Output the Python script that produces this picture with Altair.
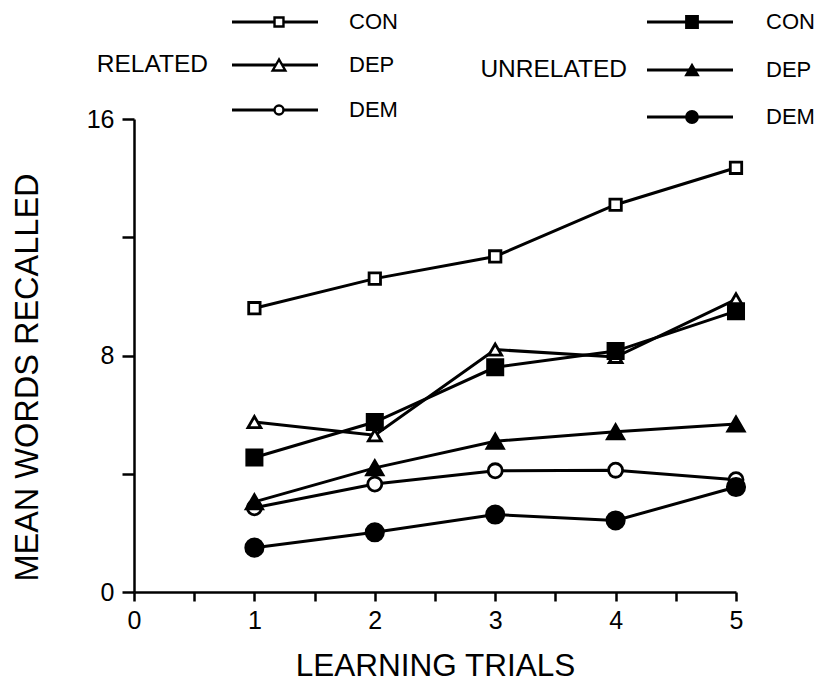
import altair as alt
import pandas as pd

# ---- data ----
trials = [1, 2, 3, 4, 5]
related_con = [9.6, 10.6, 11.35, 13.1, 14.35]
related_dep = [5.75, 5.3, 8.2, 7.95, 9.9]
related_dem = [2.85, 3.65, 4.1, 4.12, 3.8]
unrelated_con = [4.55, 5.75, 7.6, 8.15, 9.5]
unrelated_dep = [3.05, 4.2, 5.1, 5.42, 5.68]
unrelated_dem = [1.5, 2.02, 2.62, 2.42, 3.55]

series_keys = ["R-CON", "R-DEP", "R-DEM", "U-CON", "U-DEP", "U-DEM"]
series_values = [related_con, related_dep, related_dem,
                 unrelated_con, unrelated_dep, unrelated_dem]
series_labels = ["CON", "DEP", "DEM", "CON", "DEP", "DEM"]
group_labels = ["RELATED", "UNRELATED"]
x_tick_values = [0, 0.5, 1, 1.5, 2, 2.5, 3, 3.5, 4, 4.5, 5]
y_tick_values = [0, 4, 8, 12, 16]

# styles
shapes = ["square", "triangle-up", "circle", "square", "triangle-up", "circle"]
fills = ["white", "white", "white", "black", "black", "black"]
sizes = [130, 300, 110, 169, 190, 196]
legend_sizes = [80, 160, 80, 130, 130, 130]

FONT = "Liberation Sans"

rows = []
for key, vals in zip(series_keys, series_values):
    for t, v in zip(trials, vals):
        rows.append({"series": key, "trial": t, "value": v})
df = pd.DataFrame(rows)

x_enc = alt.X(
    "trial:Q",
    scale=alt.Scale(domain=[0, 5], nice=False, zero=False),
    axis=alt.Axis(
        values=x_tick_values,
        labelExpr="datum.value % 1 == 0 ? format(datum.value, 'd') : ''",
        labelFlush=False, labelOverlap=False,
        tickSize=9, tickWidth=2.5, tickColor="black",
        domainColor="black", domainWidth=2.5,
        labelFontSize=25, labelFont=FONT, labelColor="black", labelPadding=7,
        grid=False,
        title="LEARNING TRIALS", titleFont=FONT, titleFontSize=31.5,
        titleFontWeight="normal", titleColor="black",
        titleX=301, titleY=83, titleBaseline="alphabetic", titleAlign="center",
    ),
)
y_enc = alt.Y(
    "value:Q",
    scale=alt.Scale(domain=[0, 16], nice=False),
    axis=alt.Axis(
        values=y_tick_values,
        labelExpr="datum.value % 8 == 0 ? datum.label : ''",
        labelFlush=False, labelOverlap=False,
        tickSize=12, tickWidth=2.5, tickColor="black",
        domainColor="black", domainWidth=2.5,
        labelFontSize=25, labelFont=FONT, labelColor="black", labelPadding=8,
        grid=False,
        title="MEAN WORDS RECALLED", titleFont=FONT, titleFontSize=32.5,
        titleFontWeight="normal", titleColor="black",
        titleAngle=-90, titleX=-97, titleY=258, titleBaseline="alphabetic",
        titleAlign="center",
    ),
)

base = alt.Chart(df)
lines = base.mark_line(color="black", strokeWidth=3).encode(
    x=x_enc, y=y_enc, detail="series:N", order="trial:Q"
)
points = base.mark_point(filled=True, stroke="black", strokeWidth=2.8, opacity=1).encode(
    x="trial:Q",
    y="value:Q",
    shape=alt.Shape("series:N", scale=alt.Scale(domain=series_keys, range=shapes), legend=None),
    fill=alt.Fill("series:N", scale=alt.Scale(domain=series_keys, range=fills), legend=None),
    size=alt.Size("series:N", scale=alt.Scale(domain=series_keys, range=sizes), legend=None),
)

# ---- manual legend (pixel positions relative to plot origin) ----
legend_layers = []
cols = [
    {"x1": 98, "x2": 184, "xm": 145, "xt": 215, "gx": 74, "rows": [-97, -54, -9]},
    {"x1": 513, "x2": 599, "xm": 558, "xt": 632, "gx": 493, "rows": [-97, -49, -2]},
]
for i, key in enumerate(series_keys):
    g = i // 3
    r = i % 3
    c = cols[g]
    y = c["rows"][r]
    src = alt.Chart(pd.DataFrame({"label": [series_labels[i]]}))
    legend_layers.append(
        src.mark_rule(color="black", strokeWidth=3).encode(
            x=alt.value(c["x1"]), x2=alt.value(c["x2"]), y=alt.value(y)
        )
    )
    legend_layers.append(
        src.mark_point(shape=shapes[i], filled=True, fill=fills[i], stroke="black",
                       strokeWidth=2.4, size=legend_sizes[i], opacity=1).encode(
            x=alt.value(c["xm"]), y=alt.value(y)
        )
    )
    legend_layers.append(
        src.mark_text(align="left", baseline="middle", fontSize=22, font=FONT,
                      color="black").encode(
            x=alt.value(c["xt"]), y=alt.value(y), text="label:N"
        )
    )
for g, gl in enumerate(group_labels):
    src = alt.Chart(pd.DataFrame({"label": [gl]}))
    legend_layers.append(
        src.mark_text(align="right", baseline="middle", fontSize=24.5, font=FONT,
                      color="black").encode(
            x=alt.value(cols[g]["gx"]), y=alt.value(cols[g]["rows"][1]), text="label:N"
        )
    )

chart = alt.layer(lines, points, *legend_layers).properties(
    width=602,
    height=473,
    autosize=alt.AutoSizeParams(type="none"),
    padding={"left": 134, "top": 119, "right": 86, "bottom": 91},
    background="white",
).configure_view(stroke=None)

chart.save("out.html", embed_options={"renderer": "svg", "actions": False})
